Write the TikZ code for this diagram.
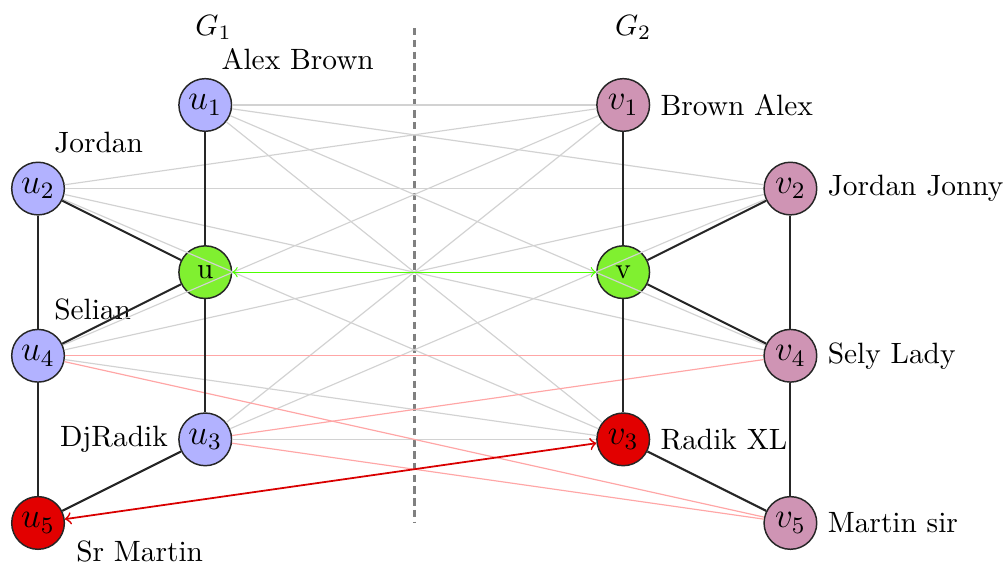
\documentclass[tikz,border=0pt]{standalone}
\usetikzlibrary{arrows}
\definecolor{vpink}{RGB}{207,148,180}
\definecolor{ugreen}{RGB}{128,240,48}
\definecolor{ured}{RGB}{226,0,0}
\tikzset{%
    uvert/.style={circle,draw=black!85,line width=0.5pt,fill=blue!30,minimum size=0.63cm,inner sep=0pt,font=\large},
    vvert/.style={uvert,fill=vpink},
    centre/.style={uvert,fill=ugreen,font=\normalsize},
    fixed/.style={uvert,fill=ured},
    tag/.style={xshift=-4.5pt,yshift=2pt,font=\normalsize},
    cand/.style={gray!35,thin},
    conflict/.style={red!35,thin},
    graphedge/.style={black!85,line width=0.7pt},
    matched/.style={<->,>=to},
}

\begin{document}
\begin{tikzpicture}[every label/.style={font=\normalsize}]
	
	\useasboundingbox (-0.455,-0.478) rectangle (11.603,6.256);
	
	\draw[gray,line width=1pt,dash pattern=on 2.5pt off 1.5pt] (4.5,5.92)--(4.5,0);
	
	\node (g1) at (2.1,5.93) {$G_1$};
	\node (g2) at (7.12,5.93) {$G_2$};
	
	%graph G1
	\node[uvert,label={[tag]above right:Alex Brown}] (u1) at (2,5) {$u_1$};
	\node[uvert,label={[tag]above right:Jordan}] (u2) at (0,4) {$u_2$};
	\node[centre] (u) at (2,3) {u};
	\node[uvert,label={[tag]above right:Selian}] (u4) at (0,2) {$u_4$};
	\node[uvert,label=left:DjRadik] (u3) at (2,1) {$u_3$};
	\node[fixed,label={[xshift=3pt,yshift=4pt]below right:Sr Martin}] (u5) at (0,0) {$u_5$};
	
	%graph G2
	\node[vvert,label=right:Brown Alex] (v1) at (7,5) {$v_1$};
	\node[vvert,label=right:Jordan Jonny] (v2) at (9,4) {$v_2$};
	\node[centre] (v) at (7,3) {v};
	\node[vvert,label=right:Sely Lady] (v4) at (9,2) {$v_4$};
	\node[fixed,label=right:Radik XL] (v3) at (7,1) {$v_3$};
	\node[vvert,label=right:Martin sir] (v5) at (9,0) {$v_5$};
	
	%candidates
	\draw[cand] (u1) -- (v1);
	\draw[cand] (u1) -- (v2);
	\draw[cand] (u1) -- (v4);
	\draw[cand] (u1) -- (v3);
	\draw[cand] (u2) -- (v1);
	\draw[cand] (u2) -- (v2);
	\draw[cand] (u2) -- (v4);
	\draw[cand] (u2) -- (v3);
	\draw[cand] (u4) -- (v1);
	\draw[cand] (u4) -- (v2);
	\draw[cand] (u4) -- (v3);
	\draw[cand] (u3) -- (v1);
	\draw[cand] (u3) -- (v2);
	\draw[cand] (u3) -- (v3);
	
	\draw[conflict] (u4) -- (v4);
	\draw[conflict] (u4) -- (v5);
	\draw[conflict] (u3) -- (v4);
	\draw[conflict] (u3) -- (v5);
	%%%%%%%%%%%%%%%%%%%
	
	\draw[graphedge] (u1) -- (u);
	\draw[graphedge] (u2) -- (u);
	\draw[graphedge] (u2) -- (u4);
	\draw[graphedge] (u4) -- (u);
	\draw[graphedge] (u) -- (u3);
	\draw[graphedge] (u4) -- (u5);
	\draw[graphedge] (u3) -- (u5);
	
	\draw[graphedge] (v1) -- (v);
	\draw[graphedge] (v2) -- (v);
	\draw[graphedge] (v2) -- (v4);
	\draw[graphedge] (v4) -- (v);
	\draw[graphedge] (v) -- (v3);
	\draw[graphedge] (v4) -- (v5);
	\draw[graphedge] (v3) -- (v5);
	
	%matching
	\draw[matched,green!60!lime,thin] (u) -- (v);
	\draw[matched,red!85!black,semithick] (u5) -- (v3);
	
\end{tikzpicture}
\end{document}
